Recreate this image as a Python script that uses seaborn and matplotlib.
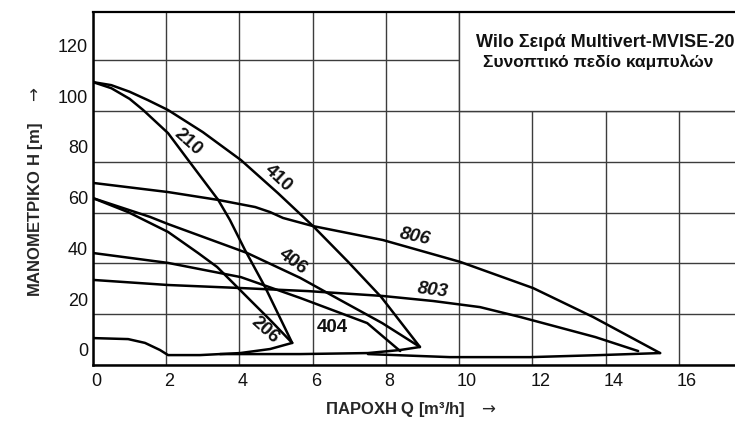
import numpy as np
import pandas as pd
import seaborn as sns
import matplotlib.pyplot as plt
from matplotlib.patches import Rectangle
from matplotlib.transforms import ScaledTranslation

sns.set_theme(style="white")
plt.rcParams['font.family'] = ['Liberation Sans', 'DejaVu Sans']
plt.rcParams['mathtext.fontset'] = 'dejavusans'

# Q [m3/h] / H [m]
q_210 = [0, 0.5, 1.0, 1.37, 2.05, 2.60, 3.42, 3.74, 4.15, 4.70, 5.44]
h_210 = [111.4, 109.0, 104.8, 100.4, 91.3, 80.7, 65.0, 57.1, 45.3, 30.7, 8.7]

q_206 = [0, 0.96, 2.05, 2.87, 3.39, 4.29, 4.84, 5.44]
h_206 = [65.7, 60.2, 52.4, 44.1, 38.6, 25.6, 17.7, 8.7]

q_2min = [0, 0.96, 1.42, 1.83, 2.05, 2.92, 4.02, 4.84, 5.44]
h_2min = [10.6, 10.2, 8.7, 5.9, 3.9, 3.9, 4.7, 6.3, 8.7]

q_410 = [0, 0.5, 1.0, 1.5, 2.05, 3.0, 4.04, 5.05, 6.01, 6.97, 7.87, 8.93]
h_410 = [111.4, 110.2, 107.6, 104.3, 100.4, 91.7, 80.7, 67.7, 54.7, 40.6, 26.8, 7.1]

q_406 = [0, 1.56, 2.05, 4.21, 5.66, 6.75, 7.90, 8.93]
h_406 = [65.7, 58.3, 55.5, 44.1, 34.3, 25.6, 16.5, 7.1]

q_404 = [0, 2.05, 4.04, 5.66, 7.49, 8.39]
h_404 = [44.1, 40.2, 34.6, 26.4, 16.5, 5.5]

q_4min = [3.47, 5.66, 7.51, 8.39, 8.93]
h_4min = [4.3, 4.3, 4.7, 5.9, 7.1]

q_806 = [0, 2.05, 3.42, 4.43, 4.84, 5.19, 6.01, 7.92, 10.03, 12.02, 13.66, 15.49]
h_806 = [71.7, 68.1, 65.0, 62.2, 60.2, 57.9, 54.7, 49.2, 40.6, 30.3, 18.9, 4.7]

q_803 = [0, 2.05, 4.04, 5.87, 7.90, 9.29, 10.57, 11.67, 13.72, 14.89]
h_803 = [33.5, 31.5, 30.3, 29.1, 27.2, 25.2, 22.8, 18.9, 11.0, 5.5]

q_8min = [7.51, 9.75, 11.94, 13.85, 15.49]
h_8min = [4.3, 3.1, 3.1, 3.9, 4.7]

curves = {
    "210": (q_210, h_210), "206": (q_206, h_206), "2min": (q_2min, h_2min),
    "410": (q_410, h_410), "406": (q_406, h_406), "404": (q_404, h_404),
    "4min": (q_4min, h_4min), "806": (q_806, h_806), "803": (q_803, h_803),
    "8min": (q_8min, h_8min),
}
df = pd.concat([pd.DataFrame({"Q": q, "H": h, "curve": k}) for k, (q, h) in curves.items()],
               ignore_index=True)

# curve labels: text, Q, H, rotation, italic
labels = [("210", 2.60, 87.8, -42, False), ("410", 5.05, 73.6, -43, False),
          ("806", 8.80, 50.4, -12, True), ("803", 9.29, 29.5, -7, True),
          ("406", 5.46, 40.6, -37, False), ("404", 6.53, 14.6, 0, False),
          ("206", 4.70, 13.8, -42, False)]

fig = plt.figure(figsize=(7.35, 4.21), dpi=100)
fig.patch.set_facecolor("white")
ax = fig.add_axes([93 / 735, 1 - 365 / 421, 659 / 735, 353 / 421])

sns.lineplot(data=df, x="Q", y="H", units="curve", estimator=None, sort=False,
             color="black", lw=1.8, ax=ax, zorder=3, legend=False)

ax.set_xlim(0, 18)
ax.set_ylim(0, 139)
ax.set_xticks(np.arange(0, 18, 2))
ax.set_yticks(np.arange(0, 140, 20))
ax.grid(True, color="#3c3c3c", lw=1.0)
ax.set_axisbelow(True)
ax.tick_params(length=0, labelsize=13, colors="#111111")
ax.tick_params(axis="y", pad=3.5)
ax.tick_params(axis="x", pad=5.5)
for sp in ["left", "bottom"]:
    ax.spines[sp].set_linewidth(1.8)
    ax.spines[sp].set_color("black")
ax.spines["top"].set_linewidth(1.6)
ax.spines["top"].set_color("black")
ax.spines["right"].set_visible(False)

# tick labels sit off the grid lines
for lab in ax.get_yticklabels():
    lab.set_transform(lab.get_transform() + ScaledTranslation(0, 0.15, fig.dpi_scale_trans))
for lab in ax.get_xticklabels():
    lab.set_ha("left")
    lab.set_transform(lab.get_transform() + ScaledTranslation(-0.02, 0, fig.dpi_scale_trans))

for txt, q, h, rot, it in labels:
    ax.text(q, h, txt, rotation=rot, rotation_mode="anchor", ha="center", va="center",
            fontsize=13.5, fontweight="bold", style="italic" if it else "normal",
            color="#111111", zorder=5)

# title box
ax.add_patch(Rectangle((10, 100), 9, 45, facecolor="white", edgecolor="#3c3c3c",
                       lw=1.0, zorder=2))
ax.text(10.46, 126.8, "Wilo Σειρά Multivert-MVISE-20", ha="left", va="center",
        fontsize=13, fontweight="bold", color="#111111", zorder=4, clip_on=True)
ax.text(13.8, 119.3, "Συνοπτικό πεδίο καμπυλών", ha="center", va="center",
        fontsize=12.5, fontweight="bold", color="#111111", zorder=4)

cond = ['Liberation Sans Narrow', 'Liberation Sans', 'DejaVu Sans']
ax.set_xlabel("ΠΑΡΟΧΗ Q [m³/h]   $\\rightarrow$", fontsize=12, fontweight="bold",
              family=cond, va="center")
ax.xaxis.set_label_coords(0.4826, -0.127)
ax.set_ylabel("ΜΑΝΟΜΕΤΡΙΚΟ Η [m]    $\\rightarrow$", fontsize=12, fontweight="bold",
              family=cond, va="center")
ax.yaxis.set_label_coords(-0.0865, 0.49)

fig.savefig("out.png", dpi=100)
